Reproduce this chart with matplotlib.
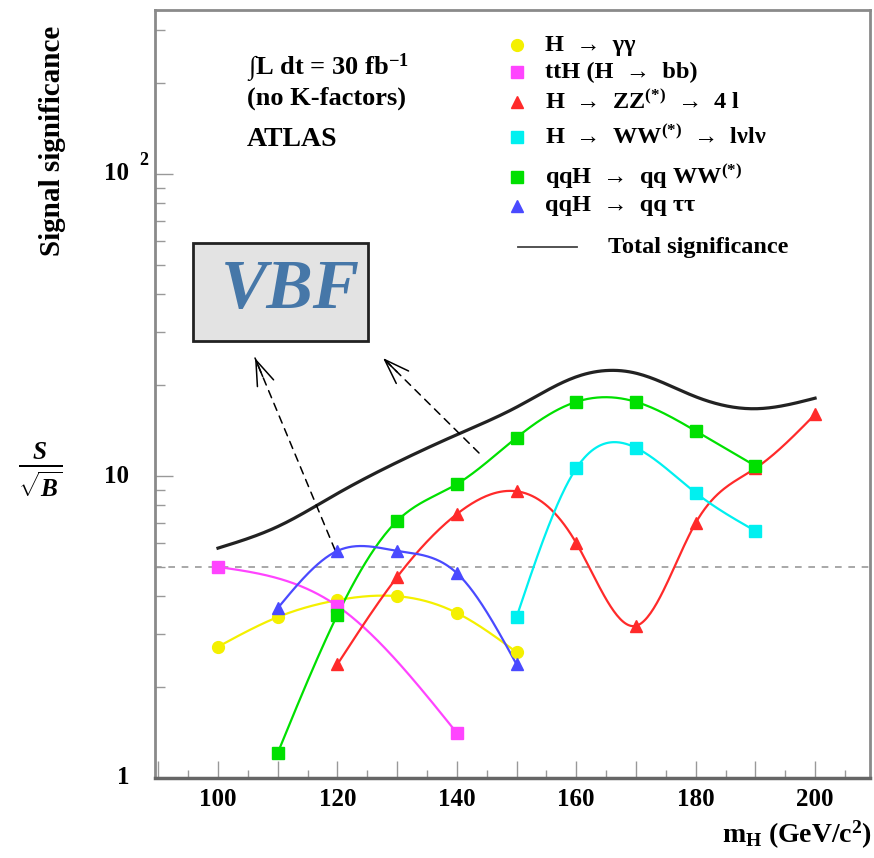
import numpy as np
import matplotlib
matplotlib.use("Agg")
import matplotlib.pyplot as plt
from matplotlib.patches import Rectangle
from matplotlib.lines import Line2D
from matplotlib.ticker import MultipleLocator, LogLocator, NullFormatter

plt.rcParams['font.family'] = ['Liberation Serif', 'DejaVu Serif']
plt.rcParams['font.weight'] = 'bold'
plt.rcParams['mathtext.fontset'] = 'custom'
plt.rcParams['mathtext.rm'] = 'Liberation Serif:bold'
plt.rcParams['mathtext.it'] = 'Liberation Serif:italic:bold'
plt.rcParams['mathtext.bf'] = 'Liberation Serif:bold'

# ---------------- data ----------------
m_gg = [100, 110, 120, 130, 140, 150]
s_gg = [2.72, 3.41, 3.88, 4.0, 3.52, 2.61]

m_tth = [100, 120, 140]
s_tth = [5.0, 3.71, 1.41]

m_zz = [120, 130, 140, 150, 160, 170, 180, 190, 200]
s_zz = [2.38, 4.63, 7.48, 8.9, 6.0, 3.19, 6.99, 10.6, 16.0]

m_ww = [150, 160, 170, 180, 190]
s_ww = [3.41, 10.6, 12.4, 8.8, 6.58]

m_qqww = [110, 120, 130, 140, 150, 160, 170, 180, 190]
s_qqww = [1.21, 3.47, 7.1, 9.4, 13.4, 17.6, 17.6, 14.1, 10.8]

m_qqtt = [110, 120, 130, 140, 150]
s_qqtt = [3.65, 5.65, 5.65, 4.77, 2.38]

m_tot = [100, 110, 120, 130, 140, 150, 160, 170, 180, 190, 200]
s_tot = [5.77, 6.8, 8.75, 11.1, 13.7, 16.9, 21.3, 21.9, 18.3, 16.7, 18.1]

discovery = 5.0


def spline(x, y, n=300):
    """natural cubic spline through points, in log10 space"""
    x = np.asarray(x, float)
    y = np.log10(np.asarray(y, float))
    N = len(x)
    if N < 3:
        xs = np.linspace(x[0], x[-1], n)
        return xs, 10 ** np.interp(xs, x, y)
    h = np.diff(x)
    A = np.zeros((N, N))
    b = np.zeros(N)
    A[0, 0] = 1
    A[-1, -1] = 1
    for i in range(1, N - 1):
        A[i, i - 1] = h[i - 1]
        A[i, i] = 2 * (h[i - 1] + h[i])
        A[i, i + 1] = h[i]
        b[i] = 6 * ((y[i + 1] - y[i]) / h[i] - (y[i] - y[i - 1]) / h[i - 1])
    M = np.linalg.solve(A, b)
    xs = np.linspace(x[0], x[-1], n)
    ys = np.empty_like(xs)
    for k, xv in enumerate(xs):
        i = min(np.searchsorted(x, xv, side='right') - 1, N - 2)
        t1 = x[i + 1] - xv
        t0 = xv - x[i]
        ys[k] = (M[i] * t1 ** 3 / (6 * h[i]) + M[i + 1] * t0 ** 3 / (6 * h[i])
                 + (y[i] / h[i] - M[i] * h[i] / 6) * t1
                 + (y[i + 1] / h[i] - M[i + 1] * h[i] / 6) * t0)
    return xs, 10 ** ys


fig = plt.figure(figsize=(8.74, 8.58), dpi=100)
ax = fig.add_axes([155 / 874, 1 - 778 / 858, 715 / 874, 768 / 858])
ax.set_yscale('log')
ax.set_xlim(89.45, 209.2)
ax.set_ylim(1, 10 ** (768 / 302))

series = [
    (m_gg, s_gg, '#f4f000', 'o', 8.5),
    (m_tth, s_tth, '#ff44ff', 's', 8.5),
    (m_zz, s_zz, '#ff2a2a', '^', 8),
    (m_ww, s_ww, '#00f0f0', 's', 8.5),
    (m_qqww, s_qqww, '#00e000', 's', 8.5),
    (m_qqtt, s_qqtt, '#4a4aff', '^', 8),
]

ax.axhline(discovery, color='#9a9a9a', lw=1.2, ls=(0, (4, 4)), zorder=1)

xs, ys = spline(m_tot, s_tot)
ax.plot(xs, ys, color='#222222', lw=2.3, zorder=2)

for mx, sy, col, mk, ms in series:
    xs, ys = spline(mx, sy)
    ax.plot(xs, ys, color=col, lw=1.6, zorder=3)
    ax.plot(mx, sy, ls='none', marker=mk, color=col, ms=ms, mec=col, zorder=4)

# ticks
ax.xaxis.set_major_locator(MultipleLocator(10))
ax.xaxis.set_minor_locator(MultipleLocator(5))
ax.set_xticklabels([])
ax.yaxis.set_major_locator(LogLocator(base=10, numticks=10))
ax.yaxis.set_minor_locator(LogLocator(base=10, subs=np.arange(2, 10), numticks=20))
ax.yaxis.set_minor_formatter(NullFormatter())
ax.set_yticklabels([])
ax.tick_params(which='both', direction='in', color='#999999', top=False, right=False)
ax.tick_params(which='major', length=12, width=1)
ax.tick_params(which='minor', length=6, width=1)
ax.tick_params(axis='y', which='major', length=13)
ax.tick_params(axis='y', which='minor', length=7)

for sp in ax.spines.values():
    sp.set_color('#8a8a8a')
    sp.set_linewidth(2)
ax.spines['bottom'].set_color('#666666')
ax.spines['bottom'].set_linewidth(2.5)

# tick labels
for v in range(100, 201, 20):
    ax.text(v, -0.028, str(v), transform=ax.get_xaxis_transform(), ha='center', va='center',
            fontsize=18)
ytr = ax.get_yaxis_transform()
ax.text(-0.036, 1, '1', transform=ytr, ha='right', va='center', fontsize=18)
ax.text(-0.036, 10, '10', transform=ytr, ha='right', va='center', fontsize=18)
ax.text(-0.036, 100, '10', transform=ytr, ha='right', va='center', fontsize=18)
ax.text(-0.022, 100.0 * 1.11, '2', transform=ytr, ha='left', va='center', fontsize=13)

# axis titles
fig.text(52 / 874, 1 - 141 / 858, 'Signal significance', rotation=90, ha='center', va='center',
         fontsize=21)
fig.text(40 / 874, 1 - 470 / 858, r'$\frac{S}{\sqrt{B}}$', ha='center', va='center', fontsize=26)
fig.text(722 / 874, 1 - 835 / 858, r'm$_{\mathrm{H}}$ (GeV/c$^{2}$)', ha='left', va='center',
         fontsize=20)

# info text
fig.text(247 / 874, 1 - 68 / 858, r'$\int$L dt = 30 fb$^{-1}$', ha='left', va='center', fontsize=19)
fig.text(247 / 874, 1 - 98 / 858, '(no K-factors)', ha='left', va='center', fontsize=19)
fig.text(247 / 874, 1 - 140 / 858, 'ATLAS', ha='left', va='center', fontsize=20)

# legend
leg_rows = [
    (45, 'H  →  γγ'),
    (72, 'ttH (H  →  bb)'),
    (102, r'H  →  ZZ$^{(*)}$  →  4 l'),
    (137, r'H  →  WW$^{(*)}$  →  lνlν'),
    (177, r'qqH  →  qq WW$^{(*)}$'),
    (206, 'qqH  →  qq ττ'),
]
for (py, label), (mx, sy, col, mk, ms) in zip(leg_rows, series):
    fig.add_artist(Line2D([517 / 874], [1 - py / 858], marker=mk, color=col, mec=col,
                          ms=ms, ls='none', transform=fig.transFigure))
    fig.text(545 / 874, 1 - py / 858, label, ha='left', va='center', fontsize=17.5)
fig.add_artist(Line2D([518 / 874, 577 / 874], [1 - 247 / 858] * 2, color='#444444', lw=1.3,
                      transform=fig.transFigure))
fig.text(608 / 874, 1 - 247 / 858, 'Total significance', ha='left', va='center', fontsize=17.5)

# VBF box
fig.add_artist(Rectangle((193 / 874, 1 - 341 / 858), 175 / 874, 98 / 858,
                         transform=fig.transFigure, facecolor='#e3e3e3', edgecolor='#222222',
                         lw=2))
fig.text(290 / 874, 1 - 291 / 858, 'VBF', ha='center', va='center', fontsize=50,
         style='italic', weight='bold', color='#4677a8')

# arrows (figure pixel coordinates, origin bottom-left)
for tail, tip in [((335, 550), (255, 358)), ((479, 453), (383, 358))]:
    t = (tail[0], 858 - tail[1])
    p = (tip[0], 858 - tip[1])
    ax.annotate('', xy=p, xytext=t, xycoords='figure pixels', textcoords='figure pixels',
                arrowprops=dict(arrowstyle='-', ls=(0, (5, 4)), lw=1.1, color='black',
                                shrinkA=0, shrinkB=0), annotation_clip=False)
    d = np.array(p, float) - np.array(t, float)
    d /= np.hypot(*d)
    back = (p[0] - 20 * d[0], p[1] - 20 * d[1])
    ax.annotate('', xy=p, xytext=back, xycoords='figure pixels', textcoords='figure pixels',
                arrowprops=dict(arrowstyle='->,head_length=1.0,head_width=0.35', lw=1.1,
                                color='black', shrinkA=0, shrinkB=0, mutation_scale=18),
                annotation_clip=False)

fig.savefig('out.png', dpi=100)
